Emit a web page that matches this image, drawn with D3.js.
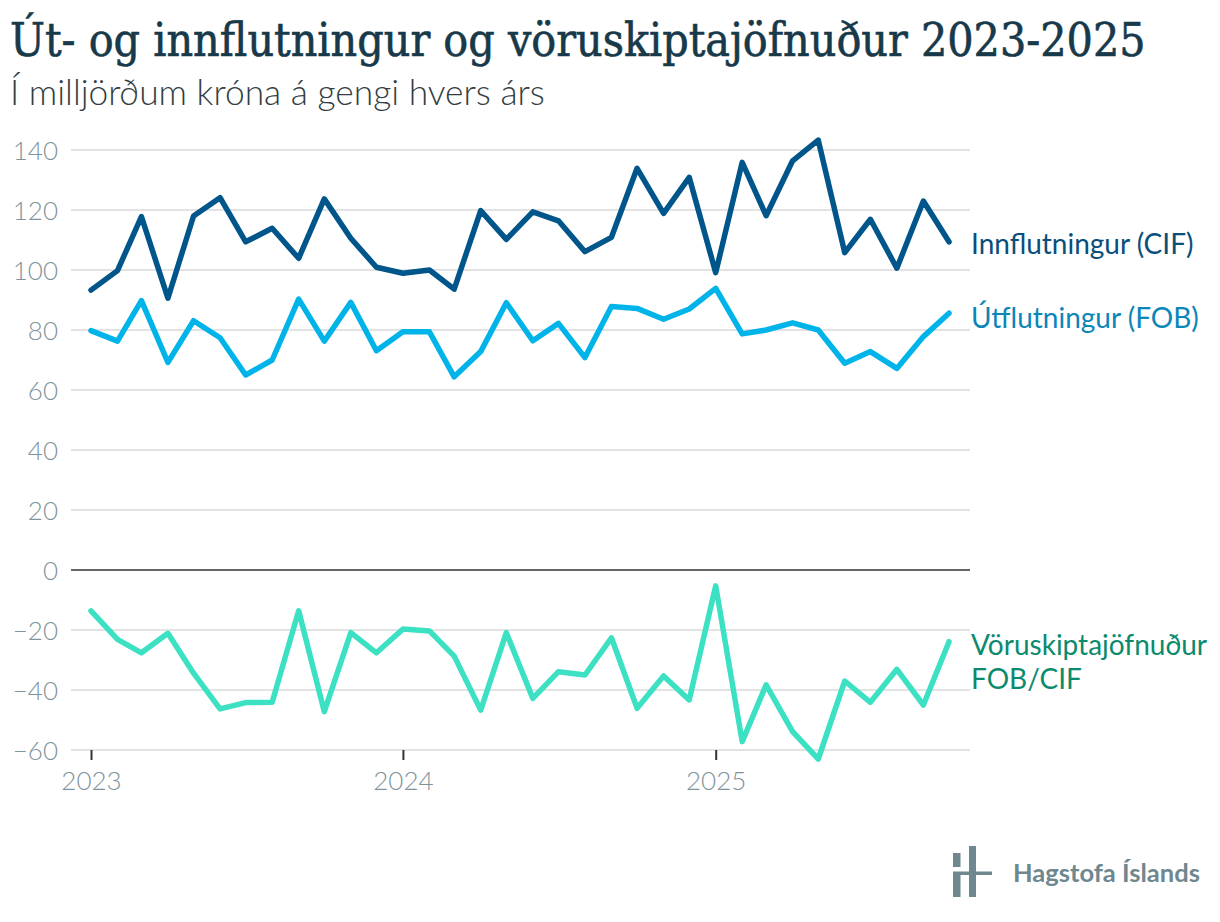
<!DOCTYPE html>
<html>
<head>
<meta charset="utf-8">
<script src="https://cdn.jsdelivr.net/npm/d3@7"></script>
<style>
  html, body { margin: 0; padding: 0; background: #fff; }
  svg { display: block; }
</style>
</head>
<body>
<svg id="chart" width="1220" height="922"></svg>
<script>
const months = ["2023-01","2023-02","2023-03","2023-04","2023-05","2023-06","2023-07","2023-08","2023-09","2023-10","2023-11","2023-12",
  "2024-01","2024-02","2024-03","2024-04","2024-05","2024-06","2024-07","2024-08","2024-09","2024-10","2024-11","2024-12",
  "2025-01","2025-02","2025-03","2025-04","2025-05","2025-06","2025-07","2025-08","2025-09","2025-10"];
const imports = [93.3, 99.8, 117.8, 90.6, 118.0, 124.1, 109.4, 113.9, 103.9, 123.7, 110.6, 100.9,
  98.9, 100.0, 93.6, 119.8, 110.2, 119.4, 116.4, 106.1, 110.9, 133.9, 118.9, 130.9,
  99.1, 135.9, 118.1, 136.4, 143.3, 105.8, 116.9, 100.6, 123.0, 109.4];
const exportsFob = [79.8, 76.3, 89.8, 69.2, 83.1, 77.4, 65.0, 70.0, 90.3, 76.3, 89.2, 73.1,
  79.4, 79.4, 64.4, 72.8, 89.1, 76.4, 82.2, 70.8, 87.8, 87.2, 83.6, 87.0,
  93.9, 78.7, 80.0, 82.4, 80.0, 68.9, 72.8, 67.2, 77.8, 85.6];
const balance = [-13.6, -23.1, -27.6, -21.1, -34.4, -46.3, -44.2, -44.1, -13.6, -47.2, -20.9, -27.6,
  -19.7, -20.3, -28.7, -46.7, -20.9, -42.8, -33.9, -35.0, -22.6, -46.1, -35.3, -43.3,
  -5.3, -57.2, -38.3, -53.9, -63.0, -37.0, -44.1, -33.1, -45.0, -23.9];
const yTicks = [-60, -40, -20, 0, 20, 40, 60, 80, 100, 120, 140];
const xTickLabels = ["2023", "2024", "2025"];
const seriesNames = [["Innflutningur (CIF)"], ["Útflutningur (FOB)"], ["Vöruskiptajöfnuður", "FOB/CIF"]];
const titleText = "Út- og innflutningur og vöruskiptajöfnuður 2023-2025";
const subtitleText = "Í milljörðum króna á gengi hvers árs";
const sourceText = "Hagstofa Íslands";

const svg = d3.select("#chart");
const parse = d3.timeParse("%Y-%m");
const dates = months.map(parse);

const x = d3.scaleTime().domain([dates[0], dates[dates.length - 1]]).range([91, 949]);
const y = d3.scaleLinear().domain([-60, 140]).range([750, 150]);
const gridX0 = 71, gridX1 = 970;

function fit(sel, width) {
  const w = sel.node().getComputedTextLength();
  const fs = parseFloat(sel.attr("font-size"));
  sel.attr("font-size", fs * width / w);
}
const title = svg.append("text").attr("x", 10).attr("y", 56)
  .attr("font-family", "'DejaVu Serif Condensed', 'DejaVu Serif', serif")
  .attr("font-stretch", "condensed").attr("font-size", 40)
  .attr("fill", "#17394a").attr("stroke", "#17394a").attr("stroke-width", 0.6)
  .text(titleText);
fit(title, 1136);
const sub = svg.append("text").attr("x", 10).attr("y", 105)
  .attr("font-family", "Lato, sans-serif").attr("font-weight", 300).attr("font-size", 28)
  .attr("fill", "#333d42").text(subtitleText);
fit(sub, 535);

// Y grid + labels
const yAxis = d3.axisLeft(y).tickValues(yTicks).tickSize(0).tickPadding(0)
  .tickFormat(d => d < 0 ? "\u2212" + Math.abs(d) : String(d));
const gy = svg.append("g").attr("transform", `translate(58,0)`).call(yAxis);
gy.select(".domain").remove();
gy.selectAll("text").attr("font-family", "Lato, sans-serif").attr("font-weight", 300)
  .attr("font-size", 26).attr("fill", "#7f949c").attr("dy", "0.35em").attr("x", 0);

svg.append("g").selectAll("line").data(yTicks).join("line")
  .attr("x1", gridX0).attr("x2", gridX1)
  .attr("y1", d => y(d)).attr("y2", d => y(d))
  .attr("stroke", d => d === 0 ? "#333333" : "#e3e3e3")
  .attr("stroke-width", d => d === 0 ? 1.5 : 2);

// X axis
const xTickDates = xTickLabels.map(s => parse(s + "-01"));
const xAxis = d3.axisBottom(x).tickValues(xTickDates).tickSize(10).tickPadding(12)
  .tickFormat(d3.timeFormat("%Y"));
const gx = svg.append("g").attr("transform", `translate(0,${y(-60)})`).call(xAxis);
gx.select(".domain").remove();
gx.selectAll(".tick line").attr("stroke", "#333").attr("stroke-width", 2);
gx.selectAll("text").attr("font-family", "Lato, sans-serif").attr("font-weight", 300)
  .attr("font-size", 26).attr("fill", "#7f949c");

// Lines
const line = d3.line().x((d, i) => x(dates[i])).y(d => y(d));
const series = [
  { values: balance, color: "#3ce0c3", label: "#0b8a6d" },
  { values: exportsFob, color: "#00b4ea", label: "#0a86b9" },
  { values: imports, color: "#00568a", label: "#0a4e7c" }
];
const names = [seriesNames[2], seriesNames[1], seriesNames[0]];
const labelOffset = [3, 5, 2];
series.forEach((s, k) => {
  svg.append("path").datum(s.values).attr("d", line)
    .attr("fill", "none").attr("stroke", s.color).attr("stroke-width", 5.5)
    .attr("stroke-linejoin", "round").attr("stroke-linecap", "round");
  const last = s.values[s.values.length - 1];
  const t = svg.append("text").attr("x", 971).attr("y", y(last) + labelOffset[k])
    .attr("font-family", "Lato, sans-serif").attr("font-size", 28)
    .attr("fill", s.label);
  names[k].forEach((n, j) => {
    t.append("tspan").attr("x", 971).attr("dy", j === 0 ? "0.35em" : "1.22em").text(n);
  });
});

// Logo
const logo = svg.append("g").attr("fill", "#6f878e");
logo.append("rect").attr("x", 953).attr("y", 853).attr("width", 7.5).attr("height", 14);
logo.append("rect").attr("x", 953).attr("y", 875).attr("width", 7.5).attr("height", 22);
logo.append("rect").attr("x", 969).attr("y", 846).attr("width", 7).attr("height", 51);
logo.append("rect").attr("x", 953).attr("y", 871.5).attr("width", 39).attr("height", 3.5);
const src = svg.append("text").attr("x", 1013).attr("y", 882)
  .attr("font-family", "Lato, sans-serif").attr("font-weight", 700).attr("font-size", 24)
  .attr("fill", "#6f878e").text(sourceText);
fit(src, 187);
</script>
</body>
</html>
